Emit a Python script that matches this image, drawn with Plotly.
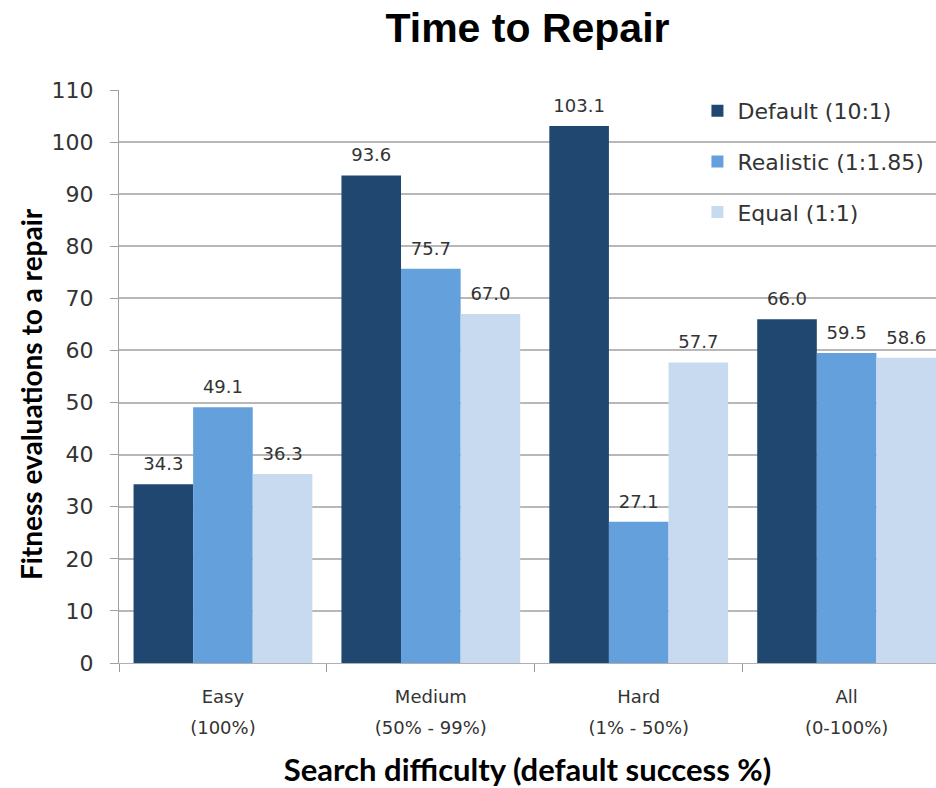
import plotly.graph_objects as go

categories = ["Easy<br>(100%)", "Medium<br>(50% - 99%)", "Hard<br>(1% - 50%)", "All<br>(0-100%)"]
series_names = ["Default (10:1)", "Realistic (1:1.85)", "Equal (1:1)"]
default_vals = [34.3, 93.6, 103.1, 66.0]
realistic_vals = [49.1, 75.7, 27.1, 59.5]
equal_vals = [36.3, 67.0, 57.7, 58.6]
colors = ["#1f4770", "#64a0dc", "#c8daf0"]

FONT = "DejaVu Sans, sans-serif"
TFONT = "Lato, Open Sans, sans-serif"

def fmt_cat(c):
    return "<br>".join(f"<span style='font-size:18px'>{p}</span>" for p in c.split("<br>"))

x_labels = [fmt_cat(c) for c in categories]

fig = go.Figure()
for i, (name, vals) in enumerate(zip(series_names, [default_vals, realistic_vals, equal_vals])):
    fig.add_trace(go.Bar(
        x=x_labels, y=vals, name=name,
        marker=dict(color=colors[i], line=dict(width=0)),
        text=[f"<span style='font-size:18px'>{v:.1f}</span><br>&nbsp;" for v in vals],
        textposition="outside",
        textfont=dict(size=7, color="#333333", family=FONT),
        cliponaxis=False, legendgroup=name,
    ))

fig.update_layout(
    width=936, height=788,
    margin=dict(l=119, r=0, t=90, b=125),
    paper_bgcolor="white", plot_bgcolor="white",
    barmode="group", bargap=0.14, bargroupgap=0,
    title=dict(text="<b>Time to Repair</b>", x=0.5, xref="paper", xanchor="center",
               y=0.965, yref="container", yanchor="middle",
               font=dict(family="Liberation Sans, Arial, sans-serif", size=41, color="black")),
    font=dict(family=FONT, color="#333333"),
    legend=dict(x=0.708, y=1.0, xanchor="left", yanchor="top", bgcolor="rgba(0,0,0,0)",
                font=dict(size=22, color="#333333", family=FONT), tracegroupgap=19,
                itemwidth=30),
    showlegend=True,
)
fig.update_xaxes(
    type="category", tickson="boundaries",
    range=[-0.5, 3.43], showgrid=False, zeroline=False,
    ticks="outside", ticklen=8, tickcolor="#999999", ticklabelstandoff=10,
    showline=True, linecolor="#b0b0b0", linewidth=1,
    tickfont=dict(size=24, color="#333333", family=FONT),
    title=dict(text="<b>Search difficulty (default success %)</b>",
               font=dict(size=31, color="black", family=TFONT), standoff=26),
)
fig.update_yaxes(
    range=[0, 110], dtick=10, showgrid=True, gridcolor="#b8b8b8", gridwidth=1.5,
    zeroline=False, showline=True, linecolor="#a0a0a0", linewidth=1,
    ticks="outside", ticklen=8, tickcolor="#a0a0a0", ticklabelstandoff=12,
    tickfont=dict(size=22, color="#333333", family=FONT),
    title=dict(text="<b>Fitness evaluations to a repair</b>" + "&nbsp;" * 5,
               font=dict(size=28, color="black", family=TFONT), standoff=0),
)

fig.write_html("out.html")
